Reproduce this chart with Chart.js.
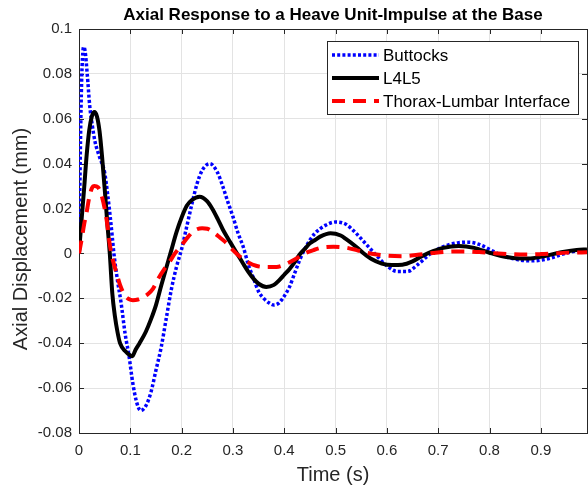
<!DOCTYPE html>
<html>
<head>
<meta charset="utf-8">
<script src="https://cdn.jsdelivr.net/npm/chart.js@4.4.0/dist/chart.umd.min.js"></script>
<style>
  html, body { margin: 0; padding: 0; background: #fff; }
  #wrap { width: 588px; height: 488px; }
</style>
</head>
<body>
<div id="wrap"><canvas id="myChart" width="588" height="488"></canvas></div>
<script>
const chartTitle = 'Axial Response to a Heave Unit-Impulse at the Base';
const xTitle = 'Time (s)';
const yTitle = 'Axial Displacement (mm)';
const seriesNames = ['Buttocks', 'L4L5', 'Thorax-Lumbar Interface'];

const xTicks = [0, 0.1, 0.2, 0.3, 0.4, 0.5, 0.6, 0.7, 0.8, 0.9];
const yTicks = [-0.08, -0.06, -0.04, -0.02, 0, 0.02, 0.04, 0.06, 0.08, 0.1];

// Buttocks (blue dotted)
const buttocksTime = [0, 0.002, 0.004, 0.006, 0.009, 0.012, 0.016, 0.021, 0.026, 0.031, 0.04, 0.05, 0.056, 0.061, 0.065, 0.068,
  0.075, 0.082, 0.09, 0.097, 0.105, 0.112, 0.12, 0.13, 0.14, 0.15, 0.16, 0.17, 0.18, 0.19, 0.2,
  0.21, 0.22, 0.23, 0.24, 0.255, 0.27, 0.28, 0.29, 0.3, 0.31, 0.32, 0.33, 0.34, 0.35, 0.36, 0.37, 0.38, 0.39,
  0.4, 0.41, 0.42, 0.43, 0.44, 0.45, 0.46, 0.48, 0.5, 0.52, 0.54, 0.56, 0.58, 0.6, 0.62, 0.64, 0.66, 0.68,
  0.7, 0.72, 0.74, 0.76, 0.78, 0.8, 0.82, 0.84, 0.86, 0.88, 0.9, 0.92, 0.94, 0.96, 0.98, 0.99];
const buttocksDisp = [0, 0.035, 0.065, 0.083, 0.092, 0.09, 0.08, 0.0655, 0.057, 0.05, 0.043, 0.036, 0.026, 0.016, 0.007, 0,
  -0.012, -0.022, -0.036, -0.045, -0.058, -0.066, -0.07, -0.068, -0.062, -0.052, -0.042, -0.029, -0.016, -0.006, 0.002,
  0.012, 0.022, 0.031, 0.037, 0.04, 0.036, 0.03, 0.023, 0.0164, 0.009, 0.003, -0.005, -0.011, -0.017, -0.02, -0.022, -0.023, -0.022,
  -0.019, -0.015, -0.009, -0.003, 0.002, 0.006, 0.009, 0.0125, 0.014, 0.013, 0.009, 0.004, -0.001, -0.0055, -0.008, -0.008, -0.005, -0.001,
  0.002, 0.0038, 0.0048, 0.005, 0.004, 0.0018, -0.0005, -0.002, -0.003, -0.0033, -0.003, -0.002, -0.0005, 0.0007, 0.0013, 0.0015];

// L4L5 (black solid)
const l4l5Time = [0, 0.005, 0.01, 0.015, 0.02, 0.025, 0.03, 0.035, 0.04, 0.045, 0.05, 0.055, 0.06, 0.065, 0.07, 0.075, 0.08,
  0.09, 0.1, 0.104, 0.11, 0.118, 0.13, 0.14, 0.15, 0.16, 0.17, 0.18, 0.19, 0.2, 0.21, 0.22, 0.235,
  0.25, 0.26, 0.27, 0.28, 0.29, 0.3, 0.31, 0.32, 0.33, 0.34, 0.35, 0.365, 0.38, 0.39, 0.4, 0.41, 0.42, 0.43,
  0.44, 0.45, 0.46, 0.47, 0.49, 0.51, 0.52, 0.54, 0.555, 0.57, 0.59, 0.61, 0.63, 0.65, 0.67, 0.69, 0.71, 0.74,
  0.77, 0.8, 0.83, 0.86, 0.88, 0.91, 0.94, 0.97, 0.99];
const l4l5Disp = [0, 0.015, 0.029, 0.044, 0.055, 0.061, 0.063, 0.061, 0.0545, 0.043, 0.029, 0.014, 0, -0.018, -0.028, -0.035, -0.04,
  -0.0435, -0.0455, -0.0458, -0.043, -0.04, -0.035, -0.0295, -0.023, -0.0145, -0.0065, 0.0015, 0.0095, 0.016, 0.0212, 0.0238, 0.0253,
  0.0232, 0.0198, 0.0155, 0.0108, 0.0068, 0.003, -0.0008, -0.0046, -0.0082, -0.0112, -0.0135, -0.0149, -0.014, -0.012, -0.0095, -0.007, -0.004, -0.0005,
  0.002, 0.0045, 0.006, 0.0075, 0.009, 0.008, 0.0065, 0.003, 0, -0.0025, -0.0045, -0.0052, -0.005, -0.0035, -0.001, 0.001, 0.0025, 0.0033,
  0.0025, 0.0003, -0.0015, -0.0022, -0.0022, -0.001, 0.0005, 0.0015, 0.0018];

// Thorax-Lumbar Interface (red dashed)
const thoraxTime = [0, 0.005, 0.01, 0.015, 0.02, 0.025, 0.03, 0.037, 0.045, 0.0535, 0.06, 0.065, 0.073, 0.08, 0.089, 0.097,
  0.105, 0.115, 0.125, 0.135, 0.144, 0.155, 0.167, 0.177, 0.187, 0.2, 0.213, 0.225, 0.24, 0.25, 0.26, 0.275, 0.288,
  0.3, 0.314, 0.33, 0.345, 0.36, 0.385, 0.405, 0.424, 0.44, 0.457, 0.475, 0.496, 0.52, 0.541, 0.56, 0.58, 0.6,
  0.63, 0.66, 0.69, 0.72, 0.75, 0.78, 0.81, 0.84, 0.87, 0.9, 0.93, 0.96, 0.99];
const thoraxDisp = [0, 0.006, 0.013, 0.0185, 0.025, 0.029, 0.03, 0.0295, 0.025, 0.0155, 0.004, -0.002, -0.0087, -0.014, -0.0186, -0.0203,
  -0.0208, -0.0205, -0.0195, -0.018, -0.0158, -0.011, -0.0067, -0.0035, 0, 0.0037, 0.0075, 0.0102, 0.0112, 0.011, 0.0097, 0.007, 0.0045,
  0.0015, -0.0015, -0.004, -0.0055, -0.006, -0.006, -0.0045, -0.0022, 0, 0.0015, 0.0027, 0.003, 0.0026, 0.0015, 0.0003, -0.0005, -0.001,
  -0.0012, -0.0006, 0.0002, 0.0008, 0.0009, 0.0006, 0.0001, -0.0003, -0.0005, -0.0003, 0.0001, 0.0004, 0.0005];

const FONT = '"Liberation Sans", Arial, Helvetica, sans-serif';
const AXIS_COLOR = '#262626';

function toPoints(xs, ys) {
    return xs.map((x, i) => ({ x: x, y: ys[i] }));
}

function fmt(v) {
    return String(+v.toFixed(2));
}

// box, inward ticks, titles and legend in the MATLAB way
const matlabFrame = {
    id: 'matlabFrame',
    beforeDatasetsDraw(chart) {
        const { ctx, chartArea: a, scales } = chart;
        ctx.save();
        ctx.strokeStyle = AXIS_COLOR;
        ctx.lineWidth = 1;
        ctx.beginPath();
        xTicks.forEach(t => {
            const px = Math.round(scales.x.getPixelForValue(t)) + 0.5;
            ctx.moveTo(px, a.bottom); ctx.lineTo(px, a.bottom - 5);
            ctx.moveTo(px, a.top); ctx.lineTo(px, a.top + 5);
        });
        yTicks.forEach(t => {
            const py = Math.round(scales.y.getPixelForValue(t)) + 0.5;
            ctx.moveTo(a.left, py); ctx.lineTo(a.left + 5, py);
            ctx.moveTo(a.right, py); ctx.lineTo(a.right - 5, py);
        });
        ctx.stroke();
        ctx.strokeRect(Math.round(a.left) + 0.5, Math.round(a.top) + 0.5,
            Math.round(a.right - a.left), Math.round(a.bottom - a.top));
        ctx.restore();
    },
    afterDraw(chart) {
        const { ctx, chartArea: a } = chart;
        ctx.save();
        // title
        ctx.fillStyle = '#000';
        ctx.font = 'bold 17px ' + FONT;
        ctx.textAlign = 'center';
        ctx.textBaseline = 'middle';
        ctx.fillText(chartTitle, (a.left + a.right) / 2, 15);
        // axis titles
        ctx.fillStyle = AXIS_COLOR;
        ctx.font = '20px ' + FONT;
        ctx.fillText(xTitle, (a.left + a.right) / 2, 475);
        ctx.translate(21, 239);
        ctx.rotate(-Math.PI / 2);
        ctx.fillText(yTitle, 0, 0);
        ctx.restore();

        // legend
        ctx.save();
        const bx = 327.5, by = 41.5, bw = 251, bh = 73;
        ctx.fillStyle = '#fff';
        ctx.fillRect(bx, by, bw, bh);
        ctx.strokeStyle = AXIS_COLOR;
        ctx.lineWidth = 1;
        ctx.strokeRect(bx, by, bw, bh);
        const rows = [55, 78, 101];
        chart.data.datasets.forEach((ds, i) => {
            ctx.save();
            ctx.strokeStyle = ds.borderColor;
            ctx.lineWidth = ds.borderWidth;
            ctx.setLineDash(ds.borderDash || []);
            ctx.lineCap = 'butt';
            ctx.beginPath();
            ctx.moveTo(332, rows[i]);
            ctx.lineTo(379, rows[i]);
            ctx.stroke();
            ctx.restore();
            ctx.fillStyle = '#000';
            ctx.font = '17px ' + FONT;
            ctx.textAlign = 'left';
            ctx.textBaseline = 'middle';
            ctx.fillText(ds.label, 383, rows[i] + 1);
        });
        ctx.restore();
    }
};

new Chart(document.getElementById('myChart'), {
    type: 'line',
    data: {
        datasets: [{
            label: seriesNames[0],
            data: toPoints(buttocksTime, buttocksDisp),
            borderColor: '#0000ff',
            borderWidth: 3.5,
            borderDash: [3, 2.2],
            order: 3
        }, {
            label: seriesNames[1],
            data: toPoints(l4l5Time, l4l5Disp),
            borderColor: '#000000',
            borderWidth: 4,
            order: 2
        }, {
            label: seriesNames[2],
            data: toPoints(thoraxTime, thoraxDisp),
            borderColor: '#ff0000',
            borderWidth: 4,
            borderDash: [13, 8],
            order: 1
        }]
    },
    options: {
        responsive: false,
        animation: false,
        devicePixelRatio: 1,
        layout: { padding: { top: 29, right: 1, left: 0, bottom: 0 } },
        elements: {
            point: { radius: 0 },
            line: { cubicInterpolationMode: 'monotone', fill: false }
        },
        plugins: {
            legend: { display: false },
            title: { display: false },
            tooltip: { enabled: false }
        },
        scales: {
            x: {
                type: 'linear',
                min: 0,
                max: 0.99,
                afterFit: s => { s.height = 55; },
                afterBuildTicks: s => { s.ticks = xTicks.map(v => ({ value: v })); },
                grid: { color: '#e3e3e3', drawTicks: false },
                border: { display: false },
                ticks: {
                    padding: 9,
                    color: AXIS_COLOR,
                    font: { family: FONT, size: 15 },
                    maxRotation: 0,
                    callback: v => fmt(v)
                }
            },
            y: {
                type: 'linear',
                min: -0.08,
                max: 0.1,
                afterFit: s => { s.width = 79; },
                afterBuildTicks: s => { s.ticks = yTicks.map(v => ({ value: v })); },
                grid: { color: '#e3e3e3', drawTicks: false },
                border: { display: false },
                ticks: {
                    padding: 7,
                    color: AXIS_COLOR,
                    font: { family: FONT, size: 15 },
                    callback: v => fmt(v)
                }
            }
        }
    },
    plugins: [matlabFrame]
});
</script>
</body>
</html>
